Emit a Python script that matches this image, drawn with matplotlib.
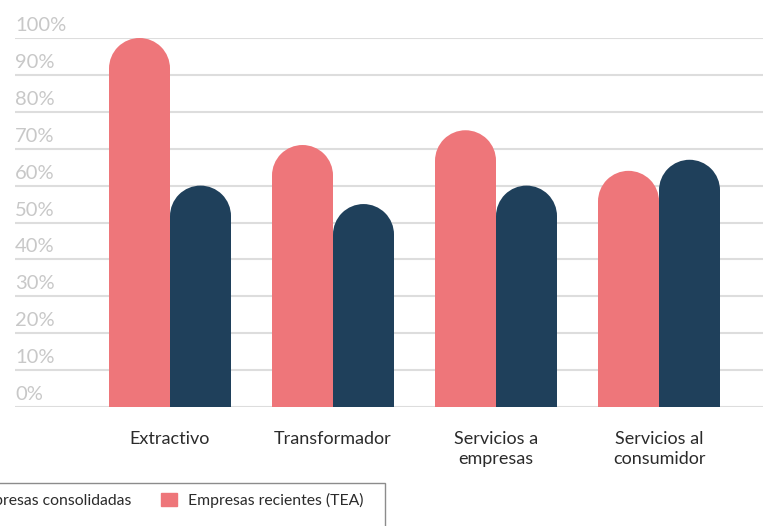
import numpy as np
import matplotlib.pyplot as plt
import matplotlib.transforms as mtransforms
from matplotlib.patches import Ellipse, Patch, Rectangle

# Dados (%)
categorias = ["Extractivo", "Transformador", "Servicios a\nempresas", "Servicios al\nconsumidor"]
recientes = [100, 71, 75, 64]      # Empresas recientes (TEA)
consolidadas = [60, 55, 60, 67]    # Empresas consolidadas
y_ticks = [0, 10, 20, 30, 40, 50, 60, 70, 80, 90, 100]

rosa = '#EE767A'
azul = '#1F405B'
cinza_grade = '#dddddd'
cinza_rotulo = '#c8c8c8'
texto = '#2b2b2b'

plt.rcParams['font.family'] = ['Lato', 'DejaVu Sans']

W, H = 763, 526
fig = plt.figure(figsize=(W / 100, H / 100), dpi=100)
ax = fig.add_axes([15 / W, 119 / H, 748 / W, 369 / H])
ax.set_xlim(-0.951, 3.638)
ax.set_ylim(0, 100)

x = np.arange(len(categorias))
ancho = 61 / 163

# raio do topo arredondado convertido para unidades de dados
p0 = ax.transData.transform((0, 0))
p1 = ax.transData.transform((1, 1))
px_x, px_y = p1[0] - p0[0], p1[1] - p0[1]
r_y = (ancho / 2 * px_x) / px_y

# barras: retângulo + semicírculo no topo
for serie, cor, desloc in [(recientes, rosa, -ancho / 2), (consolidadas, azul, ancho / 2)]:
    valores = np.array(serie, dtype=float)
    ax.bar(x + desloc, valores - r_y, ancho, color=cor, linewidth=0, zorder=2)
    for xi, v in zip(x + desloc, valores):
        ax.add_patch(Ellipse((xi, v - r_y), ancho, 2 * r_y, color=cor, linewidth=0,
                             zorder=2, clip_on=False))

# grade horizontal
ax.set_yticks(y_ticks)
ax.yaxis.grid(True, color=cinza_grade, linewidth=1.5)
ax.set_axisbelow(True)
ax.tick_params(axis='y', length=0, labelleft=False)
for s in ax.spines.values():
    s.set_visible(False)

# rótulos do eixo y acima de cada linha
trans = mtransforms.blended_transform_factory(ax.transAxes, ax.transData) + \
    mtransforms.ScaledTranslation(0, 7 / 100, fig.dpi_scale_trans)
for t in y_ticks:
    ax.text(0, t, f"{t}%", transform=trans, ha='left', va='baseline',
            fontsize=14.5, color=cinza_rotulo)

# categorias
ax.set_xticks(x)
ax.set_xticklabels(categorias, fontsize=13, color=texto, linespacing=1.35)
ax.tick_params(axis='x', length=0, pad=17)

# legenda (cortada à esquerda, como no original)
handles = [Patch(color=azul, label='Empresas consolidadas'),
           Patch(color=rosa, label='Empresas recientes (TEA)')]
fig.legend(handles=handles, loc='center right', bbox_to_anchor=(363 / W, 1 - 500 / H),
           ncol=2, frameon=False, fontsize=11.3, labelcolor=texto,
           handlelength=1.0, handleheight=0.9, handletextpad=0.7,
           columnspacing=1.9, borderpad=0, borderaxespad=0)
fig.add_artist(Rectangle((-0.1, -0.1), 385 / W + 0.1, 1 - 483 / H + 0.1,
                         transform=fig.transFigure, fill=False,
                         edgecolor='#8c8c8c', linewidth=1, clip_on=False))

fig.savefig('out.png', dpi=100)
